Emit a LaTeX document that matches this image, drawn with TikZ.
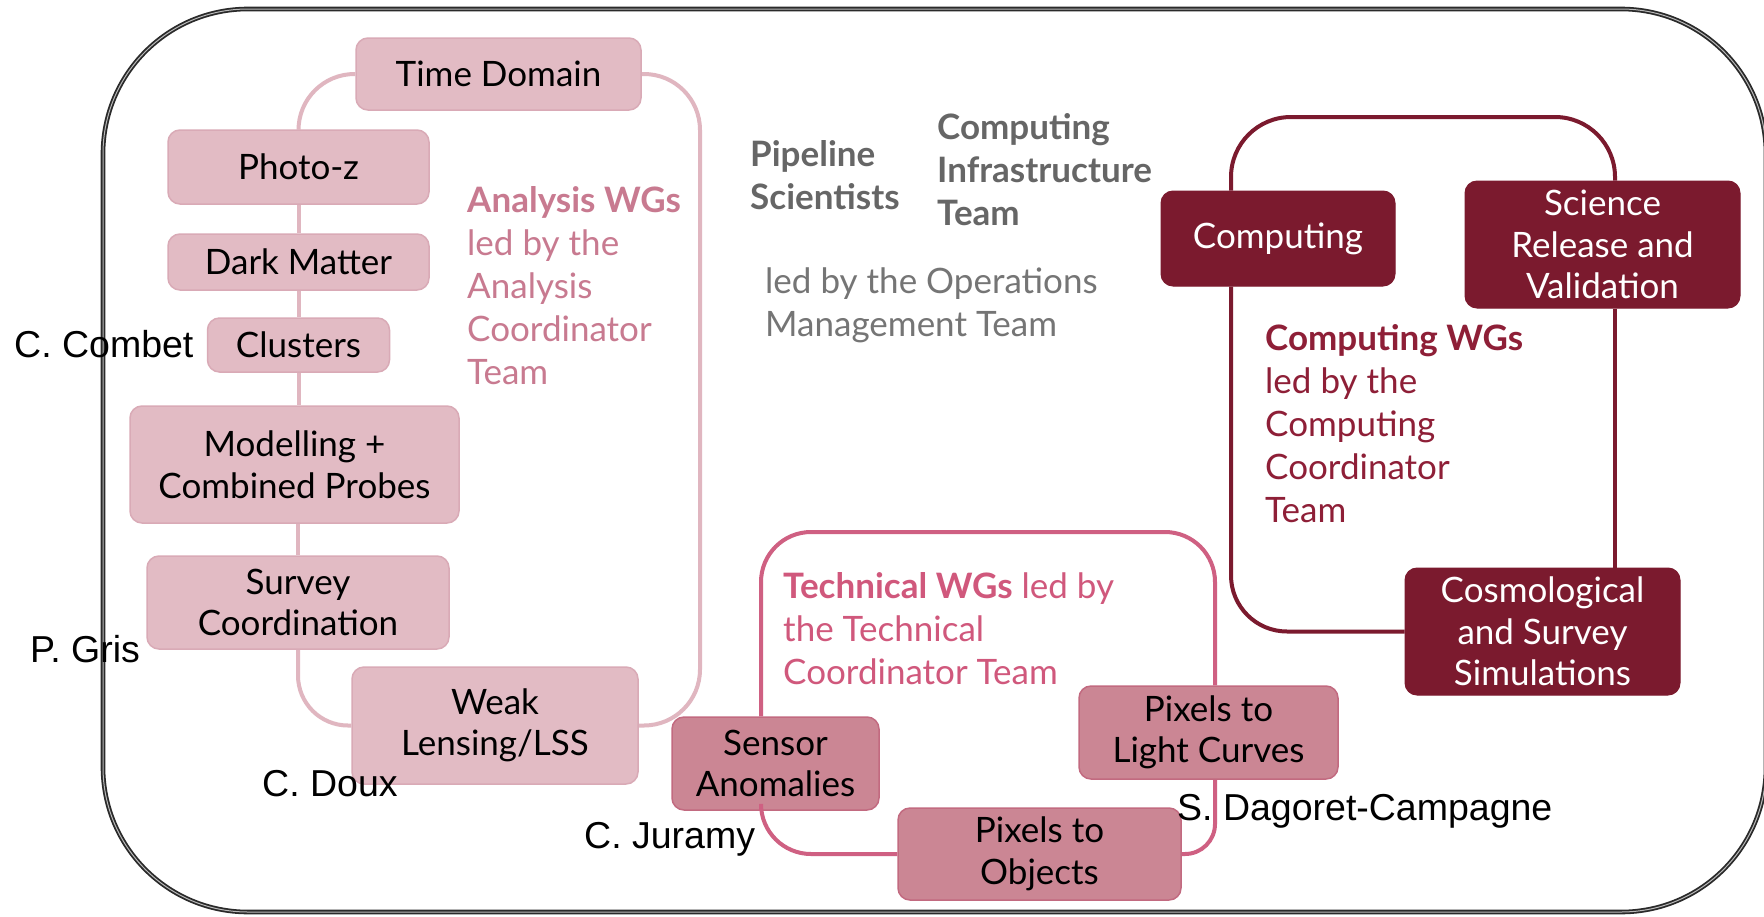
\documentclass[tikz,border=0pt]{standalone}
\usepackage{fontspec}
\setmainfont{Lato}
\newfontfamily\arialfont{Liberation Sans}
\definecolor{anafill}{HTML}{E2BBC4}
\definecolor{anaedge}{HTML}{D9AAB6}
\definecolor{analine}{HTML}{E0B6C0}
\definecolor{anatext}{HTML}{C87A90}
\definecolor{tecfill}{HTML}{CB8694}
\definecolor{tecedge}{HTML}{C26A80}
\definecolor{tecline}{HTML}{CF6082}
\definecolor{tectext}{HTML}{D0587C}
\definecolor{comfill}{HTML}{7B1A2E}
\definecolor{comtext}{HTML}{8E1F37}
\definecolor{graytext}{HTML}{666666}
\definecolor{frame}{HTML}{2A2A2A}
\tikzset{
  boxbase/.style={rounded corners=12pt, align=center, inner sep=0pt,
    font=\fontsize{35}{41.5}\selectfont, anchor=center},
  abox/.style={boxbase, draw=anaedge, fill=anafill, line width=1.5pt, text=black},
  tbox/.style={boxbase, draw=tecedge, fill=tecfill, line width=1.5pt, text=black},
  cbox/.style={boxbase, draw=comfill, fill=comfill, line width=1pt, text=white},
  aline/.style={draw=analine, line width=4pt},
  tline/.style={draw=tecline, line width=4pt},
  cline/.style={draw=comfill, line width=4pt},
  desc/.style={align=left, anchor=base west, inner sep=0pt,
    font=\fontsize{35}{43}\selectfont},
  person/.style={anchor=base west, inner sep=0pt, text=black,
    font=\arialfont\fontsize{37.5}{42}\selectfont},
}
\begin{document}
\begin{tikzpicture}[x=1pt,y=-1pt]
\path[use as bounding box, clip] (0,0) rectangle (1764,916);
\fill[white] (0,0) rectangle (1764,916);
% outer frame
\draw[draw=frame, line width=1.8pt, double=gray!55, double distance=1pt,
  rounded corners=145pt] (103,9) rectangle (1766,912);

% ---------- Analysis WGs ----------
\node[abox, minimum width=285pt, minimum height=72pt] (td) at (498.5,74) {Time Domain};
\node[abox, minimum width=261pt, minimum height=74pt] (pz) at (298.5,167) {Photo-z};
\node[abox, minimum width=261pt, minimum height=56pt] (dm) at (298.5,262) {Dark Matter};
\node[abox, minimum width=182pt, minimum height=54pt] (cl) at (298.5,345) {Clusters};
\node[abox, minimum width=329pt, minimum height=117pt] (mc) at (294.5,464.5) {Modelling +\\Combined Probes};
\node[abox, minimum width=302pt, minimum height=93pt] (sc) at (298,602.5) {Survey\\Coordination};
\node[abox, minimum width=286pt, minimum height=117pt] (wl) at (495,725.5) {Weak\\Lensing/LSS};
\coordinate (ar) at (700,400);
\draw[aline, rounded corners=56pt] (td.west) -| (pz.north);
\draw[aline] (pz.south) -- (dm.north);
\draw[aline] (dm.south) -- (cl.north);
\draw[aline] (cl.south) -- (cl.south |- mc.north);
\draw[aline] (mc.south -| sc.north) -- (sc.north);
\draw[aline, rounded corners=50pt] (sc.south) |- (wl.west);
\draw[aline, rounded corners=56pt] (td.east) -| (ar) |- (wl.east);
\node[desc, text=anatext] (atxt) at (467,384)
  {\textbf{Analysis WGs}\\led by the\\Analysis\\Coordinator\\Team};

% ---------- Operations ----------
\node[desc, text=graytext] (pipe) at (750,209) {\textbf{Pipeline}\\\textbf{Scientists}};
\node[desc, text=graytext] (cit) at (937,225) {\textbf{Computing}\\\textbf{Infrastructure}\\\textbf{Team}};
\node[desc, text=graytext!90] (ops) at (765,336) {led by the Operations\\Management Team};

% ---------- Computing WGs ----------
\node[cbox, minimum width=234pt, minimum height=95pt] (comp) at (1278,238.5) {Computing};
\node[cbox, minimum width=275pt, minimum height=127pt] (srv) at (1602.5,244.5) {Science\\Release and\\Validation};
\node[cbox, minimum width=275pt, minimum height=127pt] (cos) at (1542.5,631.5) {Cosmological\\and Survey\\Simulations};
\coordinate (ctl) at (1231,117);
\coordinate (ctr) at (1615,117);
\draw[cline, rounded corners=60pt] (comp.north -| ctl) -- (ctl) -- (ctr) -- (srv.north -| ctr);
\draw[cline] (srv.south -| ctr) -- (cos.north -| ctr);
\draw[cline, rounded corners=56pt] (comp.south -| ctl) |- (cos.west);
\node[desc, text=comtext] (ctxt) at (1265,522)
  {\textbf{Computing WGs}\\led by the\\Computing\\Coordinator\\Team};

% ---------- Technical WGs ----------
\node[tbox, minimum width=207pt, minimum height=93pt] (sa) at (775.5,763.5) {Sensor\\Anomalies};
\node[tbox, minimum width=259pt, minimum height=93pt] (plc) at (1208.5,732.5) {Pixels to\\Light Curves};
\node[tbox, minimum width=283pt, minimum height=92pt] (po) at (1039.5,854) {Pixels to\\Objects};
\coordinate (tl) at (761,532);
\coordinate (tr) at (1215,532);
\draw[tline, rounded corners=50pt] (sa.north -| tl) -- (tl) -- (tr) -- (plc.north -| tr);
\draw[tline, rounded corners=50pt] (sa.south -| tl) |- (po.west);
\draw[tline, rounded corners=30pt] (plc.south -| tr) |- (po.east);
\node[desc, text=tectext] (ttxt) at (783,684)
  {\textbf{Technical WGs} led by\\the Technical\\Coordinator Team};

% ---------- people ----------
\node[person] (p1) at (14,357) {C. Combet};
\node[person] (p2) at (30,662) {P. Gris};
\node[person] (p3) at (262,796) {C. Doux};
\node[person] (p4) at (584,848) {C. Juramy};
\node[person] (p5) at (1177,820) {S. Dagoret-Campagne};
\end{tikzpicture}
\end{document}
